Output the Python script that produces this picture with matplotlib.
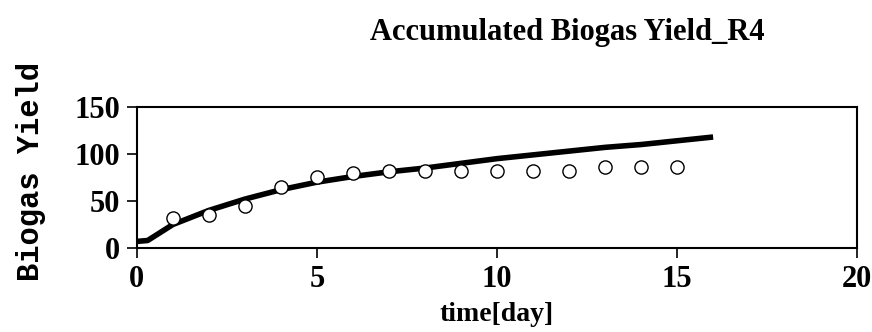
import numpy as np
import matplotlib
matplotlib.use("Agg")
import matplotlib.pyplot as plt

# gemeten biogasopbrengst (punten) en modelcurve (lijn)
dag_meting = [1, 2, 3, 4, 5, 6, 7, 8, 9, 10, 11, 12, 13, 14, 15]
yield_meting = [32, 35, 45, 65, 76, 80, 82, 82, 82, 82, 82, 82, 86, 86, 86]

dag_model = [0, 0.3, 1, 2, 3, 4, 5, 6, 7, 8, 9, 10, 11, 12, 13, 14, 15, 16]
yield_model = [7, 8, 25, 40, 52, 62, 70, 76, 81, 85, 90, 95, 99, 103, 107, 110, 114, 118]

x_ticks = [0, 5, 10, 15, 20]
y_ticks = [0, 50, 100, 150]

serif = ['Liberation Serif', 'DejaVu Serif']

fig = plt.figure(figsize=(8.72, 3.32), dpi=100)
ax = fig.add_axes([0.157, 0.253, 0.826, 0.425])

ax.plot(dag_model, yield_model, '-', color='black', lw=4.0, solid_capstyle='butt')
ax.plot(dag_meting, yield_meting, 'o', mfc='white', mec='black', mew=1.0, ms=9.5)

ax.set_xlim(0, 20)
ax.set_ylim(0, 150)
ax.set_xticks(x_ticks)
ax.set_yticks(y_ticks)
ax.tick_params(direction='out', length=7, width=1.2, pad=5, labelsize=22)
for lab in ax.get_xticklabels() + ax.get_yticklabels():
    lab.set_family(serif)
    lab.set_fontweight('bold')
for s in ax.spines.values():
    s.set_linewidth(1.5)

ax.set_xlabel("time[day]", family=serif, fontweight='bold', fontsize=20, labelpad=6)
fig.text(0.036, 0.482, "Biogas Yield", rotation=90, ha='center', va='center',
         family=['Liberation Mono', 'DejaVu Sans Mono'], fontweight='bold', fontsize=22)
fig.text(0.651, 0.88, "Accumulated Biogas Yield_R4", ha='center', va='baseline',
         family=serif, fontweight='bold', fontsize=22)

plt.savefig("out.png", dpi=100)
plt.close()
